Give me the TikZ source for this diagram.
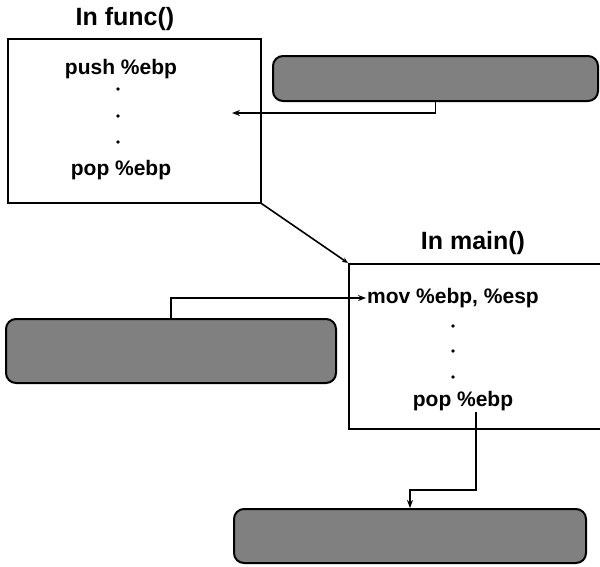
\documentclass[tikz,border=0pt]{standalone}
\usepackage{fontspec}
\setmainfont{Liberation Sans}
\usetikzlibrary{arrows.meta,positioning}
\tikzset{
  frame/.style={draw,line width=1.6pt,inner sep=0pt,anchor=north west},
  note/.style={draw,line width=2pt,rounded corners=10pt,fill=black!50,inner sep=0pt,anchor=north west},
  code/.style={font=\bfseries\fontsize{21}{24}\selectfont,inner sep=1pt},
  ttl/.style={font=\bfseries\fontsize{25}{28}\selectfont,inner sep=0pt},
  dotmark/.style={circle,fill,inner sep=1.3pt},
  ar/.style={-{Stealth[length=8pt,width=6pt]},line width=1.6pt},
}

\begin{document}
\begin{tikzpicture}[x=1pt,y=-1pt]
\useasboundingbox (0,0) rectangle (600,566);
% func() frame
\node[frame,minimum width=253pt,minimum height=164pt] (func) at (7,38) {};
\node[ttl] (functtl) at (125,19) {In func()};
\node[code] (fpush) at (121,69) {push \%ebp};
\node[dotmark] (fd1) at (118,89) {};
\node[dotmark] (fd2) at (118,116) {};
\node[dotmark] (fd3) at (118,142) {};
\node[code] (fpop) at (121,170) {pop \%ebp};
\coordinate (fin) at (232,113);

% main() frame, open to the right
\node[frame,minimum width=262pt,minimum height=165pt] (mainbox) at (348,263) {};
\node[ttl] (mainttl) at (473,243) {In main()};
\node[code] (mmov) at (453,298) {mov \%ebp, \%esp};
\node[dotmark] (md1) at (453,326) {};
\node[dotmark] (md2) at (453,351) {};
\node[dotmark] (md3) at (453,377) {};
\node[code] (mpop) at (463,401) {pop \%ebp};

% grey notes
\node[note,minimum width=325pt,minimum height=45pt] (note1) at (272,55) {};
\node[note,minimum width=330pt,minimum height=64pt] (note2) at (5,318) {};
\node[note,minimum width=352pt,minimum height=54pt] (note3) at (233,508) {};

% connectors
\draw[ar] (note1.south) |- (fin);
\draw[ar] (note2.north) |- (mmov.west);
\draw[-{Stealth[length=6pt,width=5pt]},line width=1.6pt] (func.south east) -- (mainbox.north west);
\draw[ar] ([xshift=13pt]mpop.south) |- ([yshift=18pt]note3.north) -- (note3.north);
\end{tikzpicture}
\end{document}
